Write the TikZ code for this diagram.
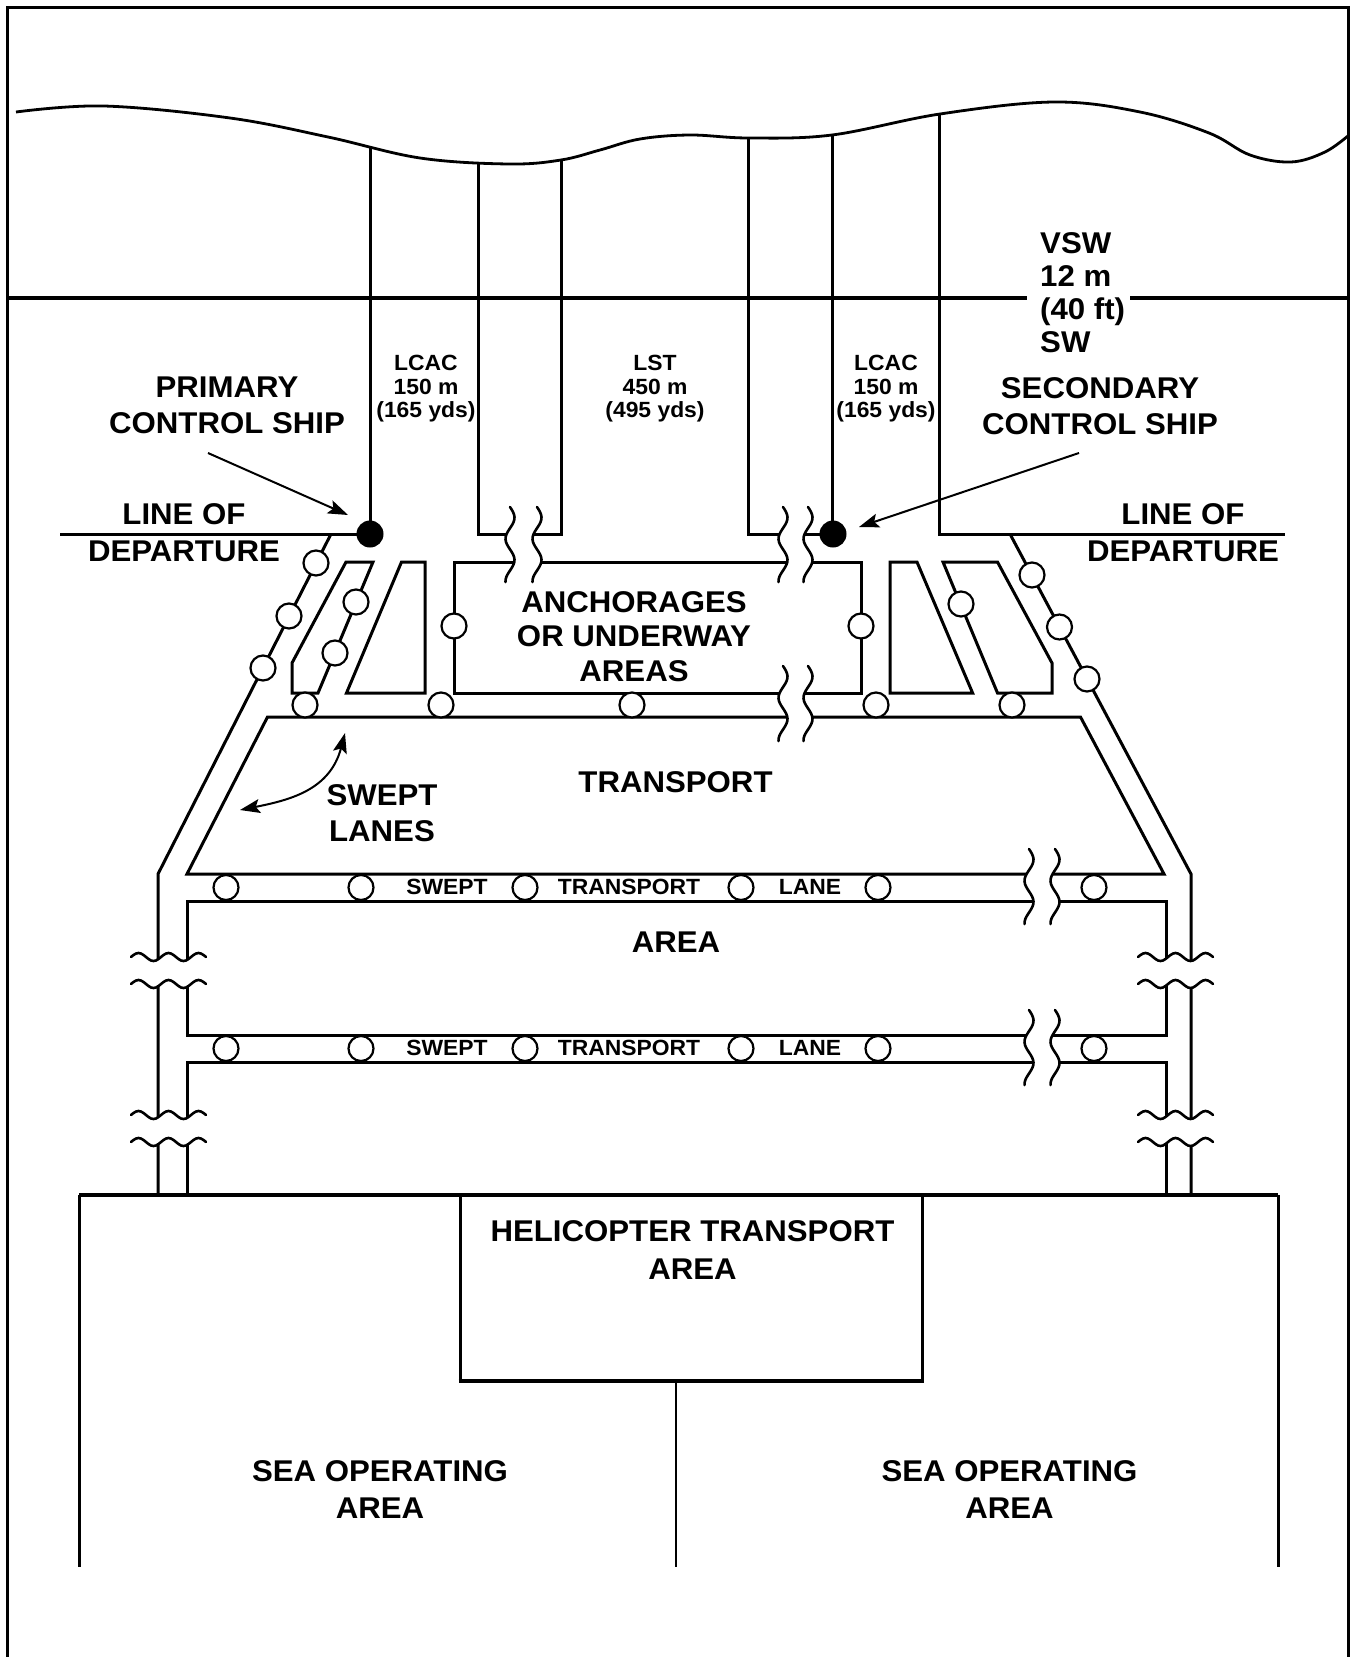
\documentclass[tikz,border=0pt]{standalone}
\usepackage{fontspec}
\setmainfont{Liberation Sans}[FakeStretch=1.04]
\usetikzlibrary{arrows.meta}
\newcommand{\mkvbrk}[3]{%
  \fill[white] plot[domain=0:75,samples=31,smooth] ({#1+4.5*sin(\x*8.5)},{#3+\x}) -- plot[domain=75:0,samples=31,smooth] ({#2+4.5*sin(\x*8.5)},{#3+\x}) -- cycle;
  \draw[brk] plot[domain=0:75,samples=31,smooth] ({#1+4.5*sin(\x*8.5)},{#3+\x});
  \draw[brk] plot[domain=0:75,samples=31,smooth] ({#2+4.5*sin(\x*8.5)},{#3+\x});
}
\newcommand{\mkhbrk}[3]{%
  \fill[white] plot[domain=0:75,samples=31,smooth] ({#3+\x},{#1-4*sin(\x*12)}) -- plot[domain=75:0,samples=31,smooth] ({#3+\x},{#2-4*sin(\x*12)}) -- cycle;
  \draw[brk] plot[domain=0:75,samples=31,smooth] ({#3+\x},{#1-4*sin(\x*12)});
  \draw[brk] plot[domain=0:75,samples=31,smooth] ({#3+\x},{#2-4*sin(\x*12)});
}
\begin{document}
\begin{tikzpicture}[x=1pt,y=-1pt,
  ln/.style={line width=3pt, line join=miter},
  thinln/.style={line width=2.2pt},
  brk/.style={line width=2.6pt, line cap=round},
  buoy/.style={circle, draw, fill=white, line width=2.2pt, minimum size=25pt, inner sep=0pt},
  shipdot/.style={circle, fill=black, minimum size=27pt, inner sep=0pt},
  arr/.style={line width=2pt, -{Stealth[length=20pt,width=14pt,inset=4pt]}},
  big/.style={font=\bfseries\fontsize{30}{36}\selectfont, align=center, inner sep=0pt, anchor=north},
  small/.style={font=\bfseries\fontsize{22}{23.5}\selectfont, align=center, inner sep=0pt, anchor=north}]
\useasboundingbox (0,0) rectangle (1352,1657);
% frame
\draw[line width=3pt] (7,1660) -- (7,7) -- (1348,7) -- (1348,1660);
% coastline
\draw[line width=2.8pt] plot[smooth, tension=0.6] coordinates {(16,112) (104,106) (230,118) (328,137) (420,158) (509,164) (561,160) (600,150) (640,139) (690,135) (749,138) (832,135) (940,114) (1054,102) (1140,112) (1209,133) (1250,155) (1291,162) (1325,152) (1349,135)};
% shore line
\draw[line width=3.5pt] (7,298) -- (1027,298);
\draw[line width=3.5pt] (1130,298) -- (1348,298);
% lane boundaries from the coast
\begin{scope}
\clip plot[smooth, tension=0.6] coordinates {(16,112) (104,106) (230,118) (328,137) (420,158) (509,164) (561,160) (600,150) (640,139) (690,135) (749,138) (832,135) (940,114) (1054,102) (1140,112) (1209,133) (1250,155) (1291,162) (1325,152) (1349,135)} -- (1349,700) -- (16,700) -- cycle;
\draw[ln] (370,80) -- (370,534);
\draw[ln] (478,80) -- (478,534) -- (561,534) -- (561,80);
\draw[ln] (748,80) -- (748,534) -- (833,534);
\draw[ln] (832,80) -- (832,534);
\draw[ln] (939,80) -- (939,534) -- (1285,534);
\end{scope}
% line of departure (left)
\draw[ln] (60,534) -- (370,534);
% outer swept lanes
\draw[ln] (331,534) -- (158,874) -- (158,1195);
\draw[ln] (1010,534) -- (1191,874) -- (1191,1195);
% islands
\draw[ln] (346,562) -- (373,562) -- (318,693) -- (292,693) -- (292,663) -- cycle;
\draw[ln] (401.5,562) -- (425,562) -- (425,693) -- (346.5,693) -- cycle;
\draw[ln] (454,562) rectangle (861,693);
\draw[ln] (890,562) -- (917,562) -- (972.6,693) -- (890,693) -- cycle;
\draw[ln] (943,562) -- (997.5,562) -- (1052,663) -- (1052,693) -- (997.5,693) -- cycle;
% transport area
\draw[ln] (267.5,717) -- (1080.5,717) -- (1164,874) -- (187,874) -- cycle;
\draw[ln] (187,901) rectangle (1166,1035);
\draw[ln] (187,1195) -- (187,1062) -- (1166,1062) -- (1166,1195);
% sea operating areas
\draw[line width=3.5pt] (79,1195) -- (1278,1195);
\draw[ln] (79,1195) -- (79,1567);
\draw[ln] (1278,1195) -- (1278,1567);
\draw[ln] (460,1195) -- (460,1381);
\draw[ln] (922,1195) -- (922,1381);
\draw[line width=3.5pt] (458.5,1381) -- (923.5,1381);
\draw[thinln] (676,1381) -- (676,1567);
% breaks
\mkvbrk{510}{537}{507}
\mkvbrk{783}{808}{507}
\mkvbrk{783}{808}{666}
\mkvbrk{1029}{1055}{849}
\mkvbrk{1029}{1055}{1010}
\mkhbrk{957}{984}{131}
\mkhbrk{1115}{1142}{131}
\mkhbrk{957}{984}{1138}
\mkhbrk{1115}{1142}{1138}
% control ships
\node[shipdot] (pship) at (370,534) {};
\node[shipdot] (sship) at (833,534) {};
% buoys
\foreach \bx/\by [count=\i] in {316/563, 289/616, 263/668, 356/602, 335/653, 454/626, 861/626, 961/604, 1032/575, 1059.5/627, 1087/679,
  305/705, 441/705, 632/705, 876/705, 1012/705,
  226/887.5, 361/887.5, 525/887.5, 741/887.5, 878/887.5, 1094/887.5,
  226/1048.5, 361/1048.5, 525/1048.5, 741/1048.5, 878/1048.5, 1094/1048.5}
  \node[buoy] (b\i) at (\bx,\by) {};
% labels
\node[big] (pcs) at (227,377) {PRIMARY\\CONTROL SHIP};
\node[big] (scs) at (1100,377) {SECONDARY\\CONTROL SHIP};
\node[big, font=\bfseries\fontsize{30}{37}\selectfont] (lodl) at (184,503) {LINE OF\\DEPARTURE};
\node[big, font=\bfseries\fontsize{30}{37}\selectfont] (lodr) at (1183,503) {LINE OF\\DEPARTURE};
\node[small] (lcacl) at (426,355) {LCAC\\150 m\\(165 yds)};
\node[small] (lst) at (655,355) {LST\\450 m\\(495 yds)};
\node[small] (lcacr) at (886,355) {LCAC\\150 m\\(165 yds)};
\node[big, align=left, anchor=north west, font=\bfseries\fontsize{30}{33}\selectfont] (vsw) at (1040,232) {VSW\\12 m\\(40 ft)\\SW};
\node[big, font=\bfseries\fontsize{30}{34.5}\selectfont] (anch) at (634,591) {ANCHORAGES\\OR UNDERWAY\\AREAS};
\node[big] (tarea) at (675.5,771) {TRANSPORT};
\node[big] (swl) at (382,784) {SWEPT\\LANES};
\node[big] (area) at (676,932) {AREA};
\node[small] (s1) at (447,879) {SWEPT};
\node[small] (t1) at (629,879) {TRANSPORT};
\node[small] (l1) at (810,879) {LANE};
\node[small] (s2) at (447,1040) {SWEPT};
\node[small] (t2) at (629,1040) {TRANSPORT};
\node[small] (l2) at (810,1040) {LANE};
\node[big, font=\bfseries\fontsize{30}{38}\selectfont] (heli) at (692.5,1220) {HELICOPTER TRANSPORT\\AREA};
\node[big, font=\bfseries\fontsize{30}{37}\selectfont] (seal) at (380,1460) {SEA OPERATING\\AREA};
\node[big, font=\bfseries\fontsize{30}{37}\selectfont] (sear) at (1009.5,1460) {SEA OPERATING\\AREA};
% arrows
\coordinate (pa0) at (208,453);
\coordinate (pa1) at (348,515);
\coordinate (sa0) at (1079,453);
\coordinate (sa1) at (859,527);
\draw[arr] (pa0) -- (pa1);
\draw[arr] (sa0) -- (sa1);
\coordinate (sw0) at (345,733);
\coordinate (sw1) at (240,810);
\draw[line width=2pt, {Stealth[length=20pt,width=14pt,inset=4pt]}-{Stealth[length=20pt,width=14pt,inset=4pt]}] (sw0) .. controls (330,790) and (290,800) .. (sw1);
\end{tikzpicture}
\end{document}
